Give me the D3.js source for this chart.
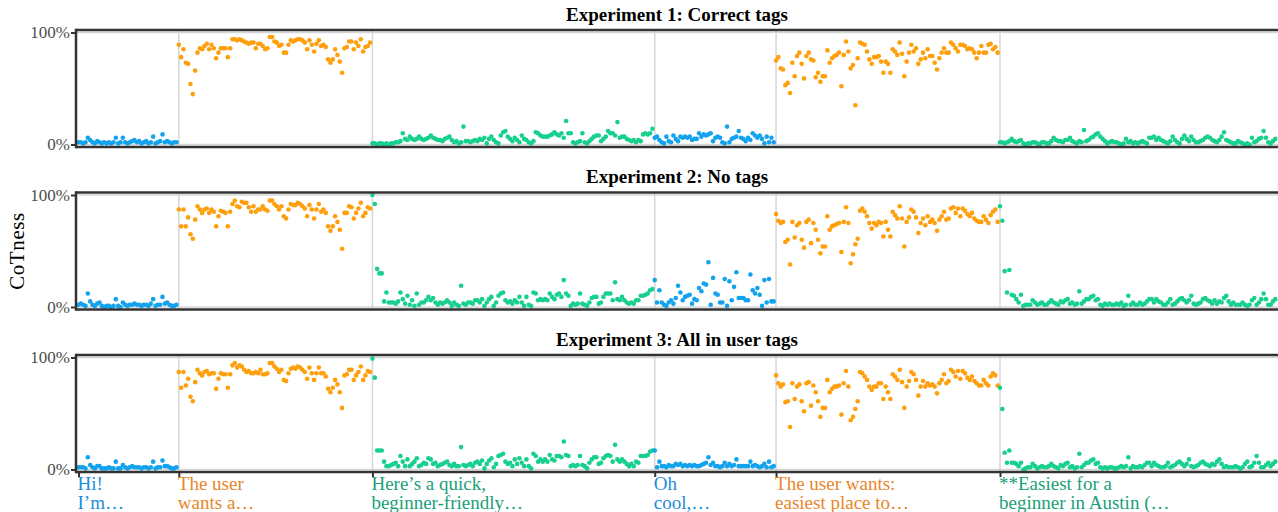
<!DOCTYPE html>
<html><head><meta charset="utf-8">
<script src="https://cdn.jsdelivr.net/npm/d3@7"></script>
<style>body{margin:0;background:#fff}svg{display:block}</style>
</head><body><svg id="c" width="1278" height="512"></svg>
<script>
const panelTitles = ["Experiment 1: Correct tags", "Experiment 2: No tags", "Experiment 3: All in user tags"];
const segmentRoles = ["user", "reasoning", "response", "user", "reasoning", "response"];
const tickLabels = [["Hi!", "I’m…"], ["The user", "wants a…"], ["Here’s a quick,", "beginner-friendly…"], ["Oh", "cool,…"], ["The user wants:", "easiest place to…"], ["**Easiest for a", "beginner in Austin (…"]];
const yTickValues = [0, 1];
const yTickLabels = ["0%", "100%"];
const yAxisTitle = "CoTness";

const exp1_seg1 = [0.02,0.02,0.01,0.02,0.06,0.04,0.02,0.01,0.03,0.02,0.01,0.02,0.01,0.02,0.01,0.02,0.06,0.01,0.02,0.06,0.02,0.01,0.02,0.03,0.04,0.02,0.03,0.01,0.02,0.03,0.01,0.02,0.07,0.01,0.02,0.03,0.09,0.02,0.03,0.02,0.01,0.02,0.02];
const exp1_seg2 = [0.89,0.78,0.85,0.73,0.72,0.54,0.45,0.66,0.82,0.86,0.85,0.88,0.90,0.85,0.89,0.86,0.77,0.82,0.86,0.86,0.86,0.78,0.86,0.94,0.94,0.93,0.94,0.93,0.92,0.91,0.90,0.91,0.91,0.86,0.90,0.90,0.88,0.85,0.86,0.96,0.96,0.92,0.91,0.88,0.89,0.82,0.82,0.89,0.93,0.92,0.93,0.94,0.94,0.93,0.91,0.85,0.93,0.89,0.83,0.90,0.93,0.88,0.89,0.87,0.76,0.73,0.76,0.85,0.80,0.74,0.64,0.86,0.87,0.92,0.92,0.85,0.91,0.88,0.94,0.83,0.87,0.88,0.91];
const exp1_seg3 = [0.01,0.01,0.00,0.01,0.01,0.00,0.01,0.00,0.01,0.01,0.02,0.02,0.03,0.10,0.05,0.04,0.07,0.05,0.04,0.05,0.07,0.05,0.04,0.05,0.06,0.08,0.06,0.05,0.04,0.04,0.03,0.05,0.06,0.07,0.04,0.02,0.03,0.01,0.02,0.16,0.03,0.03,0.02,0.03,0.04,0.03,0.05,0.04,0.06,0.01,0.05,0.07,0.04,0.02,0.01,0.08,0.11,0.12,0.07,0.05,0.03,0.06,0.04,0.02,0.08,0.05,0.04,0.02,0.01,0.03,0.11,0.10,0.08,0.07,0.07,0.07,0.08,0.09,0.11,0.09,0.08,0.10,0.06,0.21,0.10,0.10,0.02,0.01,0.02,0.03,0.10,0.02,0.01,0.03,0.05,0.07,0.08,0.08,0.03,0.05,0.07,0.12,0.10,0.10,0.08,0.20,0.06,0.07,0.07,0.05,0.04,0.03,0.04,0.02,0.04,0.03,0.09,0.10,0.09,0.10,0.14];
const exp1_seg4 = [0.06,0.07,0.04,0.02,0.01,0.07,0.03,0.02,0.08,0.05,0.03,0.07,0.06,0.07,0.06,0.07,0.04,0.05,0.05,0.10,0.07,0.09,0.08,0.09,0.10,0.03,0.06,0.07,0.06,0.02,0.01,0.16,0.02,0.05,0.06,0.07,0.12,0.06,0.05,0.03,0.06,0.04,0.10,0.08,0.06,0.08,0.05,0.01,0.07,0.02,0.06,0.02];
const exp1_seg5 = [0.75,0.78,0.68,0.67,0.53,0.55,0.46,0.73,0.61,0.79,0.82,0.72,0.59,0.79,0.82,0.76,0.75,0.60,0.64,0.56,0.61,0.61,0.84,0.73,0.77,0.79,0.80,0.82,0.52,0.80,0.92,0.83,0.68,0.71,0.35,0.77,0.91,0.90,0.89,0.83,0.76,0.72,0.78,0.78,0.79,0.74,0.64,0.74,0.72,0.64,0.85,0.83,0.80,0.91,0.81,0.61,0.74,0.82,0.89,0.83,0.86,0.72,0.76,0.82,0.77,0.85,0.79,0.79,0.73,0.67,0.77,0.82,0.86,0.82,0.82,0.91,0.89,0.86,0.83,0.89,0.89,0.88,0.85,0.86,0.85,0.82,0.77,0.82,0.88,0.82,0.82,0.89,0.90,0.85,0.87,0.82];
const exp1_seg6 = [0.02,0.02,0.01,0.02,0.03,0.05,0.03,0.02,0.03,0.04,0.01,0.00,0.01,0.01,0.02,0.02,0.01,0.00,0.02,0.02,0.01,0.01,0.03,0.06,0.04,0.03,0.03,0.02,0.04,0.04,0.06,0.03,0.02,0.01,0.03,0.02,0.13,0.03,0.04,0.06,0.07,0.09,0.10,0.07,0.05,0.03,0.01,0.02,0.03,0.02,0.02,0.01,0.00,0.01,0.05,0.02,0.03,0.01,0.02,0.01,0.02,0.03,0.02,0.01,0.06,0.06,0.07,0.04,0.06,0.04,0.03,0.02,0.01,0.03,0.07,0.04,0.02,0.01,0.05,0.08,0.05,0.03,0.07,0.04,0.02,0.02,0.03,0.04,0.06,0.07,0.06,0.04,0.03,0.02,0.04,0.07,0.11,0.04,0.03,0.02,0.01,0.01,0.03,0.02,0.01,0.00,0.01,0.00,0.06,0.02,0.03,0.05,0.06,0.12,0.06,0.02,0.01,0.03,0.05];

const exp2_seg1 = [0.02,0.03,0.02,0.01,0.12,0.05,0.02,0.01,0.03,0.04,0.01,0.00,0.01,0.01,0.00,0.01,0.07,0.01,0.00,0.04,0.02,0.01,0.02,0.02,0.03,0.02,0.02,0.01,0.02,0.02,0.01,0.03,0.07,0.01,0.02,0.02,0.09,0.03,0.04,0.02,0.01,0.01,0.02];
const exp2_seg2 = [0.87,0.72,0.87,0.72,0.80,0.65,0.61,0.78,0.90,0.87,0.84,0.87,0.88,0.84,0.87,0.85,0.72,0.81,0.86,0.85,0.84,0.72,0.85,0.92,0.95,0.90,0.89,0.94,0.93,0.93,0.89,0.85,0.90,0.85,0.87,0.87,0.90,0.87,0.86,0.95,0.95,0.92,0.90,0.87,0.90,0.81,0.79,0.87,0.92,0.91,0.91,0.93,0.92,0.90,0.88,0.81,0.91,0.87,0.79,0.87,0.92,0.85,0.87,0.84,0.72,0.68,0.72,0.81,0.76,0.69,0.52,0.84,0.84,0.90,0.89,0.79,0.84,0.88,0.93,0.81,0.84,0.89,0.88];
const exp2_seg3 = [1.00,0.92,0.34,0.30,0.30,0.05,0.13,0.04,0.04,0.04,0.03,0.05,0.13,0.07,0.03,0.10,0.02,0.06,0.01,0.12,0.02,0.04,0.04,0.06,0.09,0.06,0.08,0.04,0.02,0.04,0.03,0.04,0.06,0.04,0.01,0.04,0.02,0.01,0.19,0.03,0.02,0.04,0.04,0.03,0.06,0.06,0.04,0.07,0.01,0.04,0.07,0.09,0.01,0.04,0.10,0.12,0.13,0.06,0.04,0.05,0.03,0.06,0.04,0.09,0.04,0.01,0.09,0.02,0.01,0.13,0.12,0.06,0.07,0.06,0.07,0.06,0.12,0.09,0.07,0.11,0.12,0.09,0.24,0.12,0.10,0.01,0.03,0.02,0.03,0.12,0.03,0.02,0.01,0.04,0.08,0.09,0.09,0.03,0.04,0.09,0.12,0.12,0.12,0.06,0.22,0.07,0.06,0.09,0.06,0.04,0.03,0.04,0.03,0.06,0.06,0.10,0.10,0.11,0.12,0.15,0.16];
const exp2_seg4 = [0.24,0.04,0.15,0.04,0.02,0.01,0.04,0.06,0.03,0.08,0.19,0.13,0.06,0.09,0.10,0.11,0.03,0.07,0.06,0.17,0.14,0.21,0.20,0.40,0.02,0.26,0.12,0.11,0.04,0.04,0.25,0.01,0.23,0.06,0.18,0.31,0.08,0.08,0.08,0.06,0.06,0.29,0.15,0.12,0.17,0.11,0.01,0.24,0.04,0.25,0.05,0.05];
const exp2_seg5 = [0.83,0.77,0.75,0.76,0.58,0.60,0.38,0.76,0.62,0.73,0.75,0.60,0.53,0.76,0.78,0.57,0.75,0.69,0.60,0.48,0.54,0.54,0.81,0.69,0.72,0.73,0.74,0.75,0.49,0.76,0.89,0.75,0.39,0.47,0.56,0.61,0.86,0.88,0.85,0.81,0.75,0.70,0.75,0.73,0.76,0.75,0.63,0.76,0.69,0.63,0.85,0.82,0.79,0.90,0.79,0.54,0.76,0.80,0.87,0.85,0.80,0.66,0.75,0.79,0.73,0.81,0.76,0.78,0.75,0.68,0.78,0.81,0.85,0.78,0.79,0.88,0.89,0.84,0.88,0.81,0.88,0.86,0.83,0.81,0.84,0.79,0.77,0.76,0.76,0.81,0.78,0.75,0.82,0.85,0.87,0.76];
const exp2_seg6 = [0.90,0.77,0.32,0.13,0.33,0.11,0.10,0.07,0.04,0.11,0.01,0.02,0.02,0.02,0.06,0.04,0.02,0.03,0.04,0.02,0.02,0.04,0.06,0.04,0.03,0.02,0.05,0.04,0.06,0.07,0.03,0.04,0.02,0.03,0.14,0.03,0.05,0.07,0.07,0.09,0.10,0.06,0.07,0.02,0.01,0.03,0.02,0.03,0.02,0.02,0.03,0.02,0.04,0.01,0.02,0.10,0.02,0.04,0.02,0.02,0.04,0.02,0.03,0.05,0.07,0.07,0.04,0.07,0.05,0.04,0.02,0.02,0.04,0.07,0.02,0.03,0.05,0.07,0.08,0.06,0.04,0.06,0.10,0.03,0.02,0.03,0.04,0.07,0.08,0.06,0.05,0.03,0.06,0.03,0.05,0.04,0.08,0.10,0.05,0.02,0.04,0.02,0.02,0.02,0.04,0.02,0.01,0.02,0.06,0.08,0.02,0.04,0.07,0.12,0.07,0.02,0.02,0.05,0.07];

const exp3_seg1 = [0.02,0.02,0.02,0.01,0.11,0.04,0.02,0.01,0.03,0.03,0.01,0.01,0.01,0.02,0.01,0.01,0.07,0.01,0.01,0.04,0.02,0.01,0.02,0.03,0.02,0.02,0.02,0.01,0.02,0.02,0.01,0.02,0.07,0.01,0.02,0.02,0.08,0.03,0.03,0.02,0.01,0.01,0.02];
const exp3_seg2 = [0.87,0.73,0.87,0.75,0.81,0.65,0.61,0.78,0.89,0.86,0.84,0.87,0.88,0.85,0.86,0.86,0.72,0.81,0.86,0.85,0.85,0.73,0.85,0.93,0.95,0.91,0.93,0.92,0.89,0.87,0.88,0.86,0.86,0.87,0.86,0.89,0.85,0.85,0.86,0.95,0.95,0.92,0.90,0.87,0.89,0.80,0.79,0.86,0.90,0.91,0.90,0.92,0.91,0.89,0.87,0.81,0.91,0.86,0.80,0.86,0.91,0.86,0.86,0.83,0.72,0.69,0.73,0.80,0.76,0.69,0.55,0.84,0.85,0.89,0.89,0.80,0.84,0.87,0.92,0.80,0.84,0.88,0.87];
const exp3_seg3 = [0.99,0.82,0.17,0.17,0.17,0.07,0.03,0.03,0.04,0.05,0.06,0.03,0.12,0.07,0.03,0.09,0.03,0.05,0.07,0.10,0.03,0.04,0.06,0.05,0.10,0.09,0.05,0.06,0.03,0.04,0.05,0.06,0.07,0.04,0.03,0.05,0.03,0.03,0.20,0.04,0.03,0.04,0.05,0.03,0.06,0.07,0.05,0.08,0.01,0.05,0.08,0.10,0.02,0.05,0.12,0.13,0.14,0.07,0.05,0.06,0.03,0.09,0.05,0.10,0.06,0.03,0.09,0.03,0.01,0.14,0.12,0.07,0.09,0.07,0.09,0.07,0.13,0.09,0.08,0.12,0.12,0.11,0.25,0.13,0.12,0.03,0.04,0.03,0.04,0.12,0.04,0.03,0.01,0.06,0.09,0.11,0.11,0.05,0.06,0.10,0.12,0.13,0.12,0.07,0.22,0.09,0.07,0.09,0.07,0.05,0.03,0.05,0.03,0.07,0.06,0.12,0.12,0.12,0.13,0.16,0.17];
const exp3_seg4 = [0.17,0.02,0.07,0.03,0.03,0.02,0.04,0.03,0.03,0.05,0.04,0.05,0.03,0.04,0.03,0.04,0.03,0.04,0.03,0.03,0.04,0.05,0.06,0.11,0.04,0.06,0.03,0.03,0.02,0.03,0.06,0.03,0.05,0.03,0.04,0.09,0.03,0.03,0.03,0.03,0.03,0.07,0.03,0.04,0.03,0.02,0.03,0.05,0.02,0.07,0.02,0.03];
const exp3_seg5 = [0.84,0.77,0.74,0.76,0.60,0.61,0.38,0.77,0.63,0.74,0.76,0.61,0.52,0.77,0.78,0.57,0.75,0.69,0.61,0.47,0.55,0.55,0.80,0.69,0.72,0.74,0.74,0.75,0.49,0.77,0.88,0.74,0.44,0.47,0.54,0.61,0.87,0.86,0.83,0.80,0.74,0.71,0.74,0.74,0.77,0.77,0.63,0.74,0.69,0.63,0.85,0.83,0.80,0.89,0.78,0.55,0.74,0.79,0.87,0.85,0.80,0.66,0.74,0.79,0.74,0.77,0.75,0.76,0.74,0.68,0.77,0.80,0.85,0.77,0.79,0.89,0.87,0.83,0.88,0.81,0.88,0.86,0.82,0.80,0.83,0.79,0.77,0.75,0.75,0.80,0.77,0.75,0.83,0.86,0.84,0.75];
const exp3_seg6 = [0.73,0.54,0.15,0.06,0.17,0.06,0.06,0.05,0.03,0.06,0.00,0.01,0.02,0.02,0.05,0.03,0.01,0.02,0.03,0.02,0.02,0.03,0.05,0.03,0.02,0.01,0.04,0.03,0.05,0.06,0.02,0.03,0.01,0.02,0.14,0.02,0.04,0.06,0.06,0.08,0.09,0.05,0.06,0.02,0.01,0.02,0.01,0.02,0.02,0.01,0.01,0.02,0.03,0.02,0.03,0.11,0.01,0.03,0.02,0.02,0.03,0.02,0.04,0.06,0.06,0.03,0.06,0.04,0.03,0.02,0.02,0.03,0.06,0.02,0.03,0.04,0.06,0.07,0.05,0.03,0.05,0.09,0.03,0.02,0.03,0.04,0.06,0.07,0.05,0.04,0.03,0.05,0.04,0.07,0.09,0.05,0.02,0.03,0.02,0.02,0.02,0.03,0.02,0.01,0.02,0.05,0.07,0.02,0.03,0.06,0.12,0.06,0.02,0.02,0.04,0.06,0.03,0.05,0.07];

const experiments = [
  [exp1_seg1, exp1_seg2, exp1_seg3, exp1_seg4, exp1_seg5, exp1_seg6],
  [exp2_seg1, exp2_seg2, exp2_seg3, exp2_seg4, exp2_seg5, exp2_seg6],
  [exp3_seg1, exp3_seg2, exp3_seg3, exp3_seg4, exp3_seg5, exp3_seg6]
];

const dotColor = {user: "#13a3ee", reasoning: "#ff9f0c", response: "#17d08e"};
const textColor = {user: "#1c8cdb", reasoning: "#e8862a", response: "#1b9f76"};
const FONT = "'Liberation Serif','Times New Roman',serif";

const svg = d3.select("#c");
const left = 76, right = 1278;
const starts0 = [];
{ let a = 0; experiments[0].forEach(s => { starts0.push(a); a += s.length; }); }
const x = d3.scaleLinear().domain([0, starts0[5]]).range([78.5, 1000]);

experiments.forEach((segs, p) => {
  const yTop = 32.5 + 162.5 * p;
  const y = d3.scaleLinear().domain([0, 1]).range([yTop + 112, yTop]);
  const g = svg.append("g");
  const starts = []; let acc = 0;
  segs.forEach(s => { starts.push(acc); acc += s.length; });
  const frameTop = yTop - 2.5, frameBot = yTop + 114.5;

  g.selectAll("line.hg").data(yTickValues).join("line").attr("class", "hg")
    .attr("x1", left).attr("x2", right).attr("y1", d => y(d)).attr("y2", d => y(d))
    .attr("stroke", "#d6d6d6").attr("stroke-width", 1.5);
  g.selectAll("line.vg").data(starts.slice(1)).join("line").attr("class", "vg")
    .attr("x1", d => x(d)).attr("x2", d => x(d)).attr("y1", frameTop).attr("y2", frameBot)
    .attr("stroke", "#d6d6d6").attr("stroke-width", 1.5);

  const pts = [];
  segs.forEach((s, si) => s.forEach((v, j) => pts.push({i: starts[si] + j, v, role: segmentRoles[si]})));
  g.selectAll("circle").data(pts).join("circle")
    .attr("cx", d => x(d.i)).attr("cy", d => y(d.v)).attr("r", 2.3)
    .attr("fill", d => dotColor[d.role]);

  g.append("line").attr("x1", left).attr("x2", right).attr("y1", frameTop).attr("y2", frameTop).attr("stroke", "#333").attr("stroke-width", 2.5);
  g.append("line").attr("x1", left).attr("x2", right).attr("y1", frameBot).attr("y2", frameBot).attr("stroke", "#333").attr("stroke-width", 2.5);

  const ya = d3.axisLeft(y).tickValues(yTickValues).tickFormat((d, i) => yTickLabels[i]).tickSize(5).tickPadding(1);
  const yg = g.append("g").attr("transform", `translate(${left},0)`).call(ya);
  yg.select(".domain").remove();
  yg.selectAll(".tick line").attr("stroke", "#333").attr("stroke-width", 2);
  yg.selectAll(".tick text").attr("fill", "#4d4d4d").style("font-family", FONT).style("font-size", "17px");
  g.append("line").attr("x1", left).attr("x2", left).attr("y1", frameTop - 1.25).attr("y2", frameBot + 1.25).attr("stroke", "#333").attr("stroke-width", 2.5);

  g.append("text").attr("x", (left + right) / 2).attr("y", yTop - 12).attr("text-anchor", "middle")
    .style("font-family", FONT).style("font-size", "19px").style("font-weight", "bold").attr("fill", "#000")
    .text(panelTitles[p]);

  if (p === 2) {
    const xa = d3.axisBottom(x).tickValues(starts).tickFormat("").tickSize(5);
    const xg = g.append("g").attr("transform", `translate(0,${frameBot})`).call(xa);
    xg.select(".domain").remove();
    xg.selectAll(".tick line").attr("stroke", "#333").attr("stroke-width", 2);
    starts.forEach((s, si) => {
      const t = g.append("text").attr("x", x(s)).attr("y", 490)
        .style("font-family", FONT).style("font-size", "19px").attr("fill", textColor[segmentRoles[si]]);
      tickLabels[si].forEach((line, li) => {
        t.append("tspan").attr("x", x(s) - 1).attr("y", 490 + li * 18.5).text(line);
      });
    });
  }
});

svg.append("text").attr("transform", "translate(24,251) rotate(-90)").attr("text-anchor", "middle")
  .style("font-family", FONT).style("font-size", "21px").style("letter-spacing", "0.6px").attr("fill", "#000").text(yAxisTitle);
</script></body></html>
